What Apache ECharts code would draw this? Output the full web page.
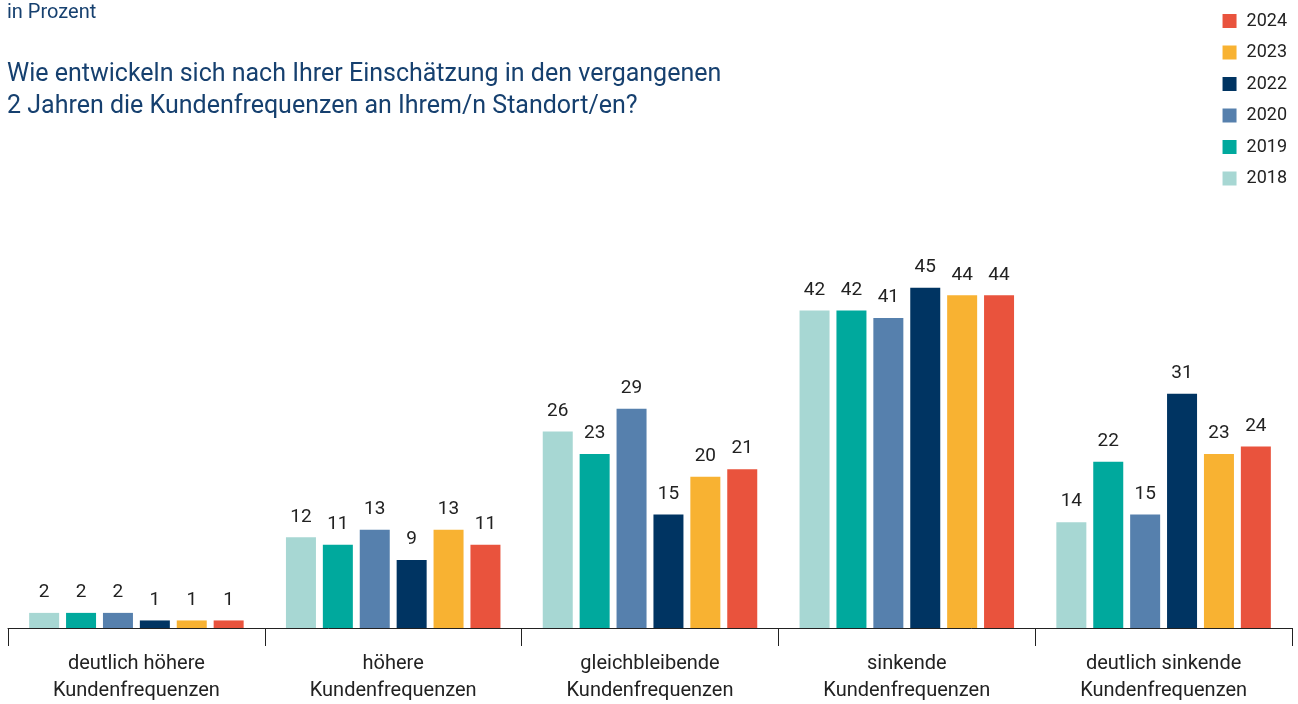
<!DOCTYPE html>
<html>
<head>
<meta charset="utf-8">
<script src="https://cdn.jsdelivr.net/npm/echarts@6/dist/echarts.min.js"></script>
<style>
  html, body { margin: 0; padding: 0; background: #fff; }
  #chart { width: 1298px; height: 704px; }
</style>
</head>
<body>
<div id="chart"></div>
<script>
// Antworten je Kategorie und Erhebungsjahr, in Prozent
const categories = [
  'deutlich höhere\nKundenfrequenzen',
  'höhere\nKundenfrequenzen',
  'gleichbleibende\nKundenfrequenzen',
  'sinkende\nKundenfrequenzen',
  'deutlich sinkende\nKundenfrequenzen'
];
const years = ['2018', '2019', '2020', '2022', '2023', '2024'];
const values2018 = [2, 12, 26, 42, 14];
const values2019 = [2, 11, 23, 42, 22];
const values2020 = [2, 13, 29, 41, 15];
const values2022 = [1, 9, 15, 45, 31];
const values2023 = [1, 13, 20, 44, 23];
const values2024 = [1, 11, 21, 44, 24];
const seriesValues = [values2018, values2019, values2020, values2022, values2023, values2024];
const colors = ['#a7d7d3', '#00a99d', '#5680ad', '#003462', '#f8b232', '#e9533d'];

const FONT = 'Roboto, "Noto Sans", sans-serif';

const chart = echarts.init(document.getElementById('chart'), null, { renderer: 'canvas' });

chart.setOption({
  animation: false,
  textStyle: { fontFamily: FONT },
  title: [
    {
      text: 'in Prozent',
      left: 7, top: 3, padding: 0,
      textStyle: { fontSize: 20, fontWeight: 'normal', color: '#16406f', fontFamily: FONT }
    },
    {
      text: 'Wie entwickeln sich nach Ihrer Einschätzung in den vergangenen\n2 Jahren die Kundenfrequenzen an Ihrem/n Standort/en?',
      left: 7, top: 58, padding: 0,
      textStyle: { fontSize: 25, fontWeight: 'normal', color: '#16406f', lineHeight: 32.5, fontFamily: FONT }
    }
  ],
  legend: {
    orient: 'vertical',
    right: 6, top: 7,
    itemWidth: 14, itemHeight: 14,
    itemGap: 13.5,
    icon: 'rect',
    data: years.slice().reverse(),
    textStyle: { fontSize: 18, color: '#222', fontFamily: FONT, padding: [0, 0, 0, 5] }
  },
  grid: { left: 8, right: 6, top: 250, bottom: 76, containLabel: false },
  xAxis: {
    type: 'category',
    data: categories,
    axisLine: { lineStyle: { color: '#222', width: 1 } },
    axisTick: { show: true, length: 18, lineStyle: { color: '#222' } },
    axisLabel: { fontSize: 20, color: '#222', lineHeight: 27, margin: 22, interval: 0, fontFamily: FONT }
  },
  yAxis: {
    type: 'value',
    min: 0, max: 50,
    show: false,
    splitLine: { show: false }
  },
  series: years.map((y, i) => ({
    name: y,
    type: 'bar',
    data: seriesValues[i],
    barWidth: 30,
    barGap: '23%',
    itemStyle: { color: colors[i] },
    label: {
      show: true,
      position: 'top',
      distance: 11,
      fontSize: 19,
      color: '#222',
      fontFamily: FONT
    }
  }))
});
</script>
</body>
</html>
